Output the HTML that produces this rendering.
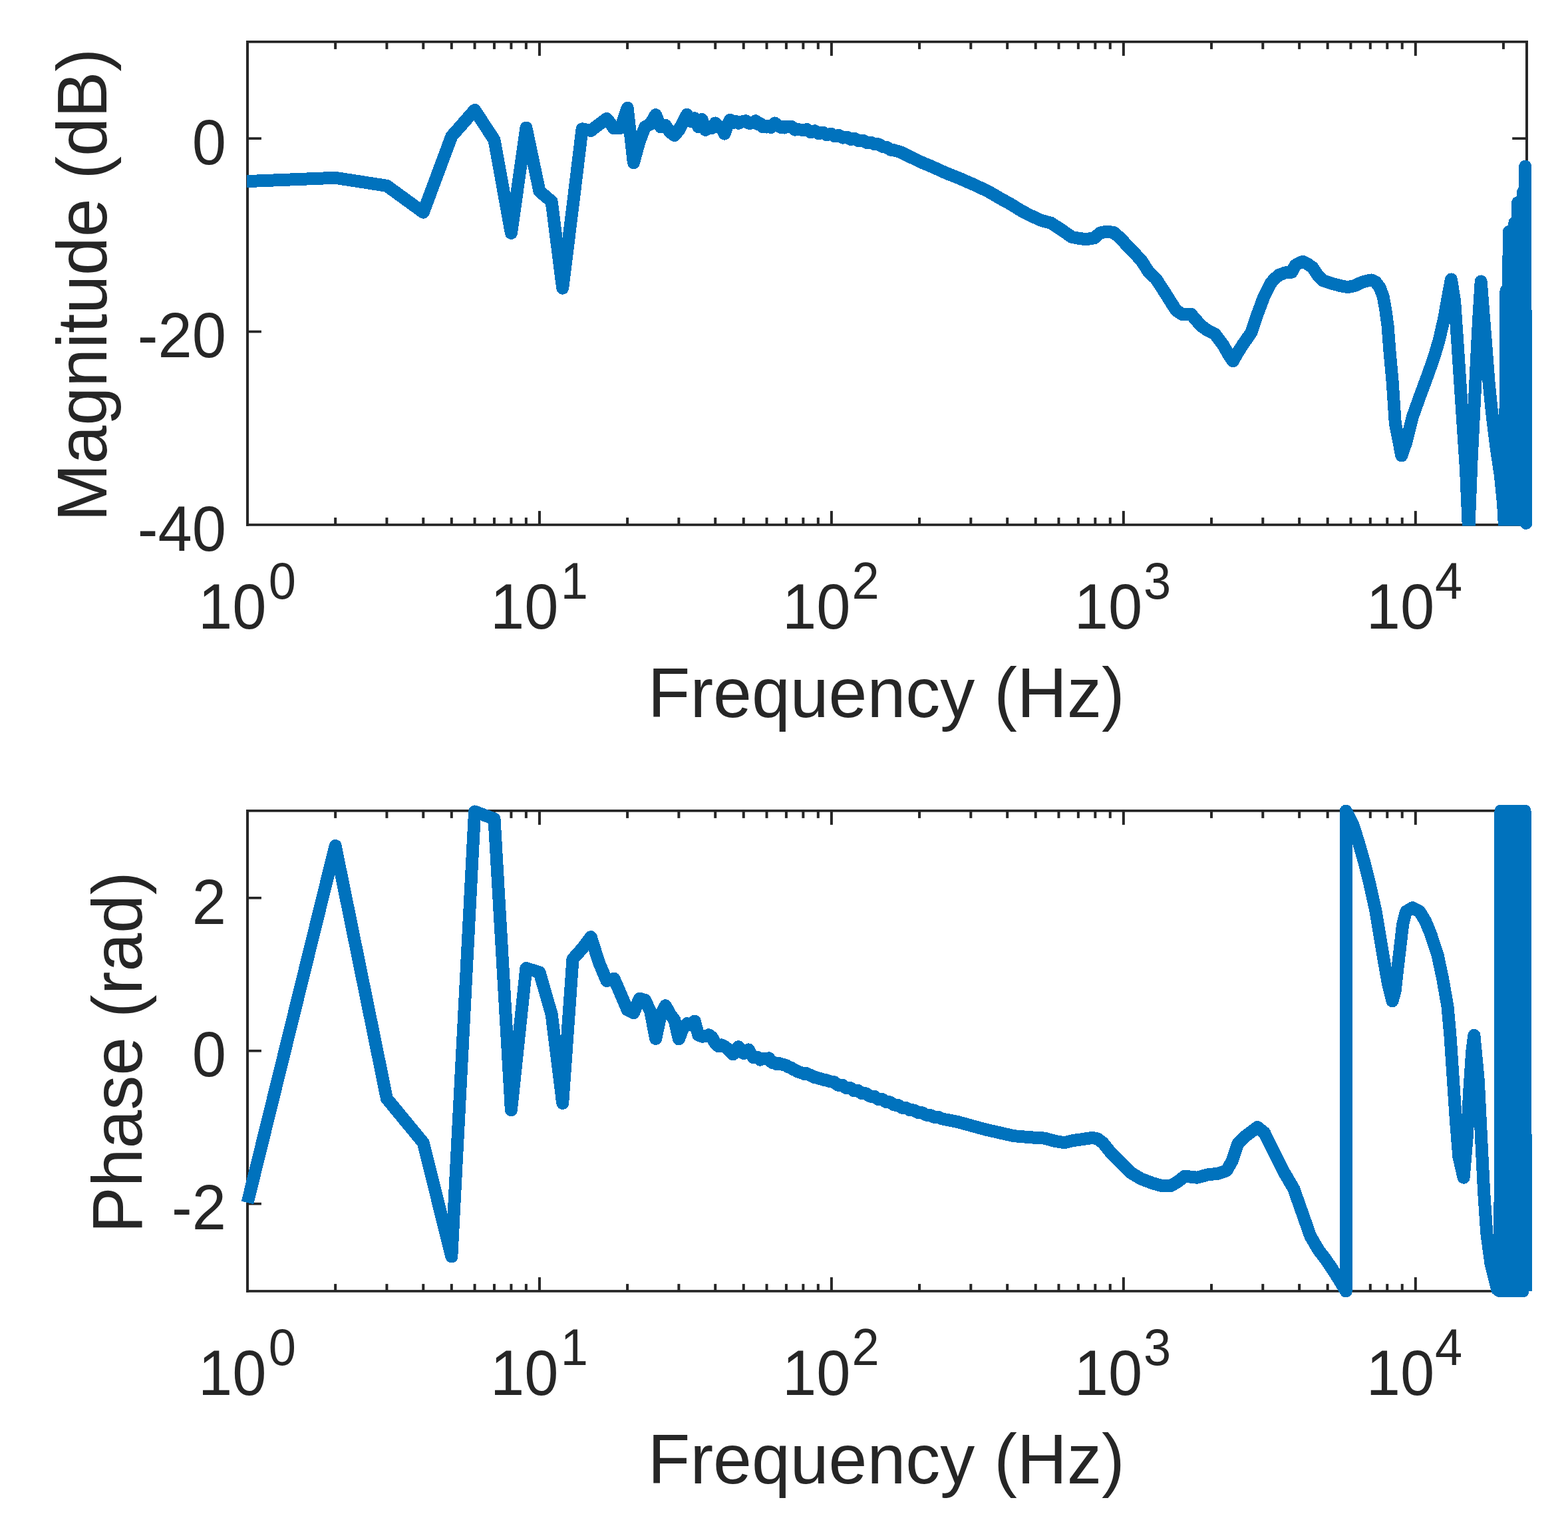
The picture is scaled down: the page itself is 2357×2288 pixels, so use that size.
<!DOCTYPE html>
<html><head><meta charset="utf-8"><title>Frequency response</title>
<style>html,body{margin:0;padding:0;background:#fff}svg{display:block}</style></head>
<body>
<svg xmlns="http://www.w3.org/2000/svg" width="2357" height="2288" viewBox="0 0 2357 2288">
<defs><clipPath id="ct"><rect x="360" y="0" width="1960" height="790.6"/></clipPath></defs>
<rect width="2357" height="2288" fill="#fff"/>
<g id="axes-top"><rect x="370" y="61.0" width="1927" height="3.7" fill="#262626"/>
<rect x="370" y="787.1" width="1927" height="3.7" fill="#262626"/>
<rect x="370" y="61.0" width="4" height="729.8" fill="#262626"/>
<rect x="2293" y="61.0" width="4" height="729.8" fill="#262626"/>
<rect x="502.14" y="778.1" width="4" height="10.9" fill="#262626"/>
<rect x="502.14" y="63.0" width="4" height="10.9" fill="#262626"/>
<rect x="579.43" y="778.1" width="4" height="10.9" fill="#262626"/>
<rect x="579.43" y="63.0" width="4" height="10.9" fill="#262626"/>
<rect x="634.27" y="778.1" width="4" height="10.9" fill="#262626"/>
<rect x="634.27" y="63.0" width="4" height="10.9" fill="#262626"/>
<rect x="676.81" y="778.1" width="4" height="10.9" fill="#262626"/>
<rect x="676.81" y="63.0" width="4" height="10.9" fill="#262626"/>
<rect x="711.57" y="778.1" width="4" height="10.9" fill="#262626"/>
<rect x="711.57" y="63.0" width="4" height="10.9" fill="#262626"/>
<rect x="740.96" y="778.1" width="4" height="10.9" fill="#262626"/>
<rect x="740.96" y="63.0" width="4" height="10.9" fill="#262626"/>
<rect x="766.41" y="778.1" width="4" height="10.9" fill="#262626"/>
<rect x="766.41" y="63.0" width="4" height="10.9" fill="#262626"/>
<rect x="788.86" y="778.1" width="4" height="10.9" fill="#262626"/>
<rect x="788.86" y="63.0" width="4" height="10.9" fill="#262626"/>
<rect x="808.95" y="768.1" width="4" height="20.9" fill="#262626"/>
<rect x="808.95" y="63.0" width="4" height="20.9" fill="#262626"/>
<rect x="941.09" y="778.1" width="4" height="10.9" fill="#262626"/>
<rect x="941.09" y="63.0" width="4" height="10.9" fill="#262626"/>
<rect x="1018.38" y="778.1" width="4" height="10.9" fill="#262626"/>
<rect x="1018.38" y="63.0" width="4" height="10.9" fill="#262626"/>
<rect x="1073.22" y="778.1" width="4" height="10.9" fill="#262626"/>
<rect x="1073.22" y="63.0" width="4" height="10.9" fill="#262626"/>
<rect x="1115.76" y="778.1" width="4" height="10.9" fill="#262626"/>
<rect x="1115.76" y="63.0" width="4" height="10.9" fill="#262626"/>
<rect x="1150.52" y="778.1" width="4" height="10.9" fill="#262626"/>
<rect x="1150.52" y="63.0" width="4" height="10.9" fill="#262626"/>
<rect x="1179.91" y="778.1" width="4" height="10.9" fill="#262626"/>
<rect x="1179.91" y="63.0" width="4" height="10.9" fill="#262626"/>
<rect x="1205.36" y="778.1" width="4" height="10.9" fill="#262626"/>
<rect x="1205.36" y="63.0" width="4" height="10.9" fill="#262626"/>
<rect x="1227.81" y="778.1" width="4" height="10.9" fill="#262626"/>
<rect x="1227.81" y="63.0" width="4" height="10.9" fill="#262626"/>
<rect x="1247.90" y="768.1" width="4" height="20.9" fill="#262626"/>
<rect x="1247.90" y="63.0" width="4" height="20.9" fill="#262626"/>
<rect x="1380.04" y="778.1" width="4" height="10.9" fill="#262626"/>
<rect x="1380.04" y="63.0" width="4" height="10.9" fill="#262626"/>
<rect x="1457.33" y="778.1" width="4" height="10.9" fill="#262626"/>
<rect x="1457.33" y="63.0" width="4" height="10.9" fill="#262626"/>
<rect x="1512.17" y="778.1" width="4" height="10.9" fill="#262626"/>
<rect x="1512.17" y="63.0" width="4" height="10.9" fill="#262626"/>
<rect x="1554.71" y="778.1" width="4" height="10.9" fill="#262626"/>
<rect x="1554.71" y="63.0" width="4" height="10.9" fill="#262626"/>
<rect x="1589.47" y="778.1" width="4" height="10.9" fill="#262626"/>
<rect x="1589.47" y="63.0" width="4" height="10.9" fill="#262626"/>
<rect x="1618.86" y="778.1" width="4" height="10.9" fill="#262626"/>
<rect x="1618.86" y="63.0" width="4" height="10.9" fill="#262626"/>
<rect x="1644.31" y="778.1" width="4" height="10.9" fill="#262626"/>
<rect x="1644.31" y="63.0" width="4" height="10.9" fill="#262626"/>
<rect x="1666.76" y="778.1" width="4" height="10.9" fill="#262626"/>
<rect x="1666.76" y="63.0" width="4" height="10.9" fill="#262626"/>
<rect x="1686.85" y="768.1" width="4" height="20.9" fill="#262626"/>
<rect x="1686.85" y="63.0" width="4" height="20.9" fill="#262626"/>
<rect x="1818.99" y="778.1" width="4" height="10.9" fill="#262626"/>
<rect x="1818.99" y="63.0" width="4" height="10.9" fill="#262626"/>
<rect x="1896.28" y="778.1" width="4" height="10.9" fill="#262626"/>
<rect x="1896.28" y="63.0" width="4" height="10.9" fill="#262626"/>
<rect x="1951.12" y="778.1" width="4" height="10.9" fill="#262626"/>
<rect x="1951.12" y="63.0" width="4" height="10.9" fill="#262626"/>
<rect x="1993.66" y="778.1" width="4" height="10.9" fill="#262626"/>
<rect x="1993.66" y="63.0" width="4" height="10.9" fill="#262626"/>
<rect x="2028.42" y="778.1" width="4" height="10.9" fill="#262626"/>
<rect x="2028.42" y="63.0" width="4" height="10.9" fill="#262626"/>
<rect x="2057.81" y="778.1" width="4" height="10.9" fill="#262626"/>
<rect x="2057.81" y="63.0" width="4" height="10.9" fill="#262626"/>
<rect x="2083.26" y="778.1" width="4" height="10.9" fill="#262626"/>
<rect x="2083.26" y="63.0" width="4" height="10.9" fill="#262626"/>
<rect x="2105.71" y="778.1" width="4" height="10.9" fill="#262626"/>
<rect x="2105.71" y="63.0" width="4" height="10.9" fill="#262626"/>
<rect x="2125.80" y="768.1" width="4" height="20.9" fill="#262626"/>
<rect x="2125.80" y="63.0" width="4" height="20.9" fill="#262626"/>
<rect x="2257.94" y="778.1" width="4" height="10.9" fill="#262626"/>
<rect x="2257.94" y="63.0" width="4" height="10.9" fill="#262626"/>
<rect x="372" y="206.30" width="20.9" height="3.7" fill="#262626"/>
<rect x="2273.2" y="206.30" width="21.8" height="3.7" fill="#262626"/>
<rect x="372" y="496.70" width="20.9" height="3.7" fill="#262626"/>
<rect x="2273.2" y="496.70" width="21.8" height="3.7" fill="#262626"/></g>
<g id="axes-bot"><rect x="370" y="1217.0" width="1927" height="3.7" fill="#262626"/>
<rect x="370" y="1939.1" width="1927" height="3.7" fill="#262626"/>
<rect x="370" y="1217.0" width="4" height="725.8" fill="#262626"/>
<rect x="2293" y="1217.0" width="4" height="725.8" fill="#262626"/>
<rect x="502.14" y="1930.1" width="4" height="10.9" fill="#262626"/>
<rect x="502.14" y="1219.0" width="4" height="10.9" fill="#262626"/>
<rect x="579.43" y="1930.1" width="4" height="10.9" fill="#262626"/>
<rect x="579.43" y="1219.0" width="4" height="10.9" fill="#262626"/>
<rect x="634.27" y="1930.1" width="4" height="10.9" fill="#262626"/>
<rect x="634.27" y="1219.0" width="4" height="10.9" fill="#262626"/>
<rect x="676.81" y="1930.1" width="4" height="10.9" fill="#262626"/>
<rect x="676.81" y="1219.0" width="4" height="10.9" fill="#262626"/>
<rect x="711.57" y="1930.1" width="4" height="10.9" fill="#262626"/>
<rect x="711.57" y="1219.0" width="4" height="10.9" fill="#262626"/>
<rect x="740.96" y="1930.1" width="4" height="10.9" fill="#262626"/>
<rect x="740.96" y="1219.0" width="4" height="10.9" fill="#262626"/>
<rect x="766.41" y="1930.1" width="4" height="10.9" fill="#262626"/>
<rect x="766.41" y="1219.0" width="4" height="10.9" fill="#262626"/>
<rect x="788.86" y="1930.1" width="4" height="10.9" fill="#262626"/>
<rect x="788.86" y="1219.0" width="4" height="10.9" fill="#262626"/>
<rect x="808.95" y="1920.1" width="4" height="20.9" fill="#262626"/>
<rect x="808.95" y="1219.0" width="4" height="20.9" fill="#262626"/>
<rect x="941.09" y="1930.1" width="4" height="10.9" fill="#262626"/>
<rect x="941.09" y="1219.0" width="4" height="10.9" fill="#262626"/>
<rect x="1018.38" y="1930.1" width="4" height="10.9" fill="#262626"/>
<rect x="1018.38" y="1219.0" width="4" height="10.9" fill="#262626"/>
<rect x="1073.22" y="1930.1" width="4" height="10.9" fill="#262626"/>
<rect x="1073.22" y="1219.0" width="4" height="10.9" fill="#262626"/>
<rect x="1115.76" y="1930.1" width="4" height="10.9" fill="#262626"/>
<rect x="1115.76" y="1219.0" width="4" height="10.9" fill="#262626"/>
<rect x="1150.52" y="1930.1" width="4" height="10.9" fill="#262626"/>
<rect x="1150.52" y="1219.0" width="4" height="10.9" fill="#262626"/>
<rect x="1179.91" y="1930.1" width="4" height="10.9" fill="#262626"/>
<rect x="1179.91" y="1219.0" width="4" height="10.9" fill="#262626"/>
<rect x="1205.36" y="1930.1" width="4" height="10.9" fill="#262626"/>
<rect x="1205.36" y="1219.0" width="4" height="10.9" fill="#262626"/>
<rect x="1227.81" y="1930.1" width="4" height="10.9" fill="#262626"/>
<rect x="1227.81" y="1219.0" width="4" height="10.9" fill="#262626"/>
<rect x="1247.90" y="1920.1" width="4" height="20.9" fill="#262626"/>
<rect x="1247.90" y="1219.0" width="4" height="20.9" fill="#262626"/>
<rect x="1380.04" y="1930.1" width="4" height="10.9" fill="#262626"/>
<rect x="1380.04" y="1219.0" width="4" height="10.9" fill="#262626"/>
<rect x="1457.33" y="1930.1" width="4" height="10.9" fill="#262626"/>
<rect x="1457.33" y="1219.0" width="4" height="10.9" fill="#262626"/>
<rect x="1512.17" y="1930.1" width="4" height="10.9" fill="#262626"/>
<rect x="1512.17" y="1219.0" width="4" height="10.9" fill="#262626"/>
<rect x="1554.71" y="1930.1" width="4" height="10.9" fill="#262626"/>
<rect x="1554.71" y="1219.0" width="4" height="10.9" fill="#262626"/>
<rect x="1589.47" y="1930.1" width="4" height="10.9" fill="#262626"/>
<rect x="1589.47" y="1219.0" width="4" height="10.9" fill="#262626"/>
<rect x="1618.86" y="1930.1" width="4" height="10.9" fill="#262626"/>
<rect x="1618.86" y="1219.0" width="4" height="10.9" fill="#262626"/>
<rect x="1644.31" y="1930.1" width="4" height="10.9" fill="#262626"/>
<rect x="1644.31" y="1219.0" width="4" height="10.9" fill="#262626"/>
<rect x="1666.76" y="1930.1" width="4" height="10.9" fill="#262626"/>
<rect x="1666.76" y="1219.0" width="4" height="10.9" fill="#262626"/>
<rect x="1686.85" y="1920.1" width="4" height="20.9" fill="#262626"/>
<rect x="1686.85" y="1219.0" width="4" height="20.9" fill="#262626"/>
<rect x="1818.99" y="1930.1" width="4" height="10.9" fill="#262626"/>
<rect x="1818.99" y="1219.0" width="4" height="10.9" fill="#262626"/>
<rect x="1896.28" y="1930.1" width="4" height="10.9" fill="#262626"/>
<rect x="1896.28" y="1219.0" width="4" height="10.9" fill="#262626"/>
<rect x="1951.12" y="1930.1" width="4" height="10.9" fill="#262626"/>
<rect x="1951.12" y="1219.0" width="4" height="10.9" fill="#262626"/>
<rect x="1993.66" y="1930.1" width="4" height="10.9" fill="#262626"/>
<rect x="1993.66" y="1219.0" width="4" height="10.9" fill="#262626"/>
<rect x="2028.42" y="1930.1" width="4" height="10.9" fill="#262626"/>
<rect x="2028.42" y="1219.0" width="4" height="10.9" fill="#262626"/>
<rect x="2057.81" y="1930.1" width="4" height="10.9" fill="#262626"/>
<rect x="2057.81" y="1219.0" width="4" height="10.9" fill="#262626"/>
<rect x="2083.26" y="1930.1" width="4" height="10.9" fill="#262626"/>
<rect x="2083.26" y="1219.0" width="4" height="10.9" fill="#262626"/>
<rect x="2105.71" y="1930.1" width="4" height="10.9" fill="#262626"/>
<rect x="2105.71" y="1219.0" width="4" height="10.9" fill="#262626"/>
<rect x="2125.80" y="1920.1" width="4" height="20.9" fill="#262626"/>
<rect x="2125.80" y="1219.0" width="4" height="20.9" fill="#262626"/>
<rect x="2257.94" y="1930.1" width="4" height="10.9" fill="#262626"/>
<rect x="2257.94" y="1219.0" width="4" height="10.9" fill="#262626"/>
<rect x="372" y="1348.00" width="20.9" height="3.7" fill="#262626"/>
<rect x="2273.2" y="1348.00" width="21.8" height="3.7" fill="#262626"/>
<rect x="372" y="1577.90" width="20.9" height="3.7" fill="#262626"/>
<rect x="2273.2" y="1577.90" width="21.8" height="3.7" fill="#262626"/>
<rect x="372" y="1807.80" width="20.9" height="3.7" fill="#262626"/>
<rect x="2273.2" y="1807.80" width="21.8" height="3.7" fill="#262626"/></g>
<g font-family="'Liberation Sans', Arial, Helvetica, sans-serif" fill="#262626">
<text transform="translate(298.0,944.8) scale(0.950,1)" font-size="97">10<tspan dx="3.36" dy="-44.5" font-size="78">0</tspan></text>
<text transform="translate(737.0,944.8) scale(0.950,1)" font-size="97">10<tspan dx="3.57" dy="-44.5" font-size="78">1</tspan></text>
<text transform="translate(1175.9,944.8) scale(0.950,1)" font-size="97">10<tspan dx="2.31" dy="-44.5" font-size="78">2</tspan></text>
<text transform="translate(1614.8,944.8) scale(0.950,1)" font-size="97">10<tspan dx="1.78" dy="-44.5" font-size="78">3</tspan></text>
<text transform="translate(2053.8,944.8) scale(0.950,1)" font-size="97">10<tspan dx="0.73" dy="-44.5" font-size="78">4</tspan></text>
<text transform="translate(298.0,2096.8) scale(0.950,1)" font-size="97">10<tspan dx="3.36" dy="-44.5" font-size="78">0</tspan></text>
<text transform="translate(737.0,2096.8) scale(0.950,1)" font-size="97">10<tspan dx="3.57" dy="-44.5" font-size="78">1</tspan></text>
<text transform="translate(1175.9,2096.8) scale(0.950,1)" font-size="97">10<tspan dx="2.31" dy="-44.5" font-size="78">2</tspan></text>
<text transform="translate(1614.8,2096.8) scale(0.950,1)" font-size="97">10<tspan dx="1.78" dy="-44.5" font-size="78">3</tspan></text>
<text transform="translate(2053.8,2096.8) scale(0.950,1)" font-size="97">10<tspan dx="0.73" dy="-44.5" font-size="78">4</tspan></text>
<text transform="translate(340,246.8) scale(0.950,1)" text-anchor="end" font-size="97">0</text>
<text transform="translate(340,537.2) scale(0.950,1)" text-anchor="end" font-size="97">-20</text>
<text transform="translate(340,827.6) scale(0.950,1)" text-anchor="end" font-size="97">-40</text>
<text transform="translate(340,1388.5) scale(0.950,1)" text-anchor="end" font-size="97">2</text>
<text transform="translate(340,1618.4) scale(0.950,1)" text-anchor="end" font-size="97">0</text>
<text transform="translate(340,1848.3) scale(0.950,1)" text-anchor="end" font-size="97">-2</text>
<text transform="translate(1332.2,1078.4) scale(0.986,1)" text-anchor="middle" font-size="105.5">Frequency (Hz)</text>
<text transform="translate(1332.2,2230.4) scale(0.986,1)" text-anchor="middle" font-size="105.5">Frequency (Hz)</text>
<text transform="translate(159.8,428.5) rotate(-90) scale(0.986,1)" text-anchor="middle" font-size="105.5">Magnitude (dB)</text>
<text transform="translate(213.1,1582) rotate(-90) scale(0.986,1)" text-anchor="middle" font-size="105.5">Phase (rad)</text>
</g>
<g clip-path="url(#ct)"><polyline fill="none" stroke="#0072BD" stroke-width="19" stroke-linejoin="round" stroke-linecap="butt" shape-rendering="crispEdges" points="371.0,272.6 504.1,267.3 581.4,279.3 636.3,319.2 678.8,205.0 713.6,165.4 743.0,210.4 768.4,350.4 790.9,192.2 811.0,287.5 829.1,302.8 845.7,433.2 861.0,309.7 875.1,193.8 888.2,196.5 900.5,186.9 912.1,178.4 923.0,193.0 933.3,192.2 943.1,162.3 952.4,244.6 961.3,212.2 969.7,190.7 977.8,186.3 985.6,172.6 993.1,190.9 1000.3,188.6 1007.2,198.5 1013.9,203.5 1020.4,195.6 1026.6,183.9 1032.7,172.3 1038.6,182.5 1044.2,177.6 1049.8,190.7 1055.1,179.4 1060.4,195.4 1065.4,191.5 1070.4,192.4 1075.2,185.0 1079.9,189.6 1084.5,192.3 1089.0,201.1 1093.4,187.8 1097.7,180.2 1101.9,184.6 1106.0,182.6 1110.0,185.2 1113.9,183.4 1117.8,182.4 1121.5,181.8 1125.2,185.2 1128.9,185.1 1132.4,183.8 1135.9,181.8 1139.4,186.8 1142.7,185.6 1146.1,190.6 1149.3,189.3 1152.5,191.0 1155.7,189.2 1158.8,191.6 1161.8,188.3 1164.8,185.0 1167.8,188.3 1170.7,189.2 1173.6,191.4 1176.4,190.3 1179.2,192.0 1181.9,190.7 1184.6,190.4 1187.3,190.3 1189.9,190.4 1192.5,192.5 1195.1,195.1 1197.6,194.4 1200.1,194.7 1202.5,195.0 1205.0,195.0 1207.4,195.4 1209.7,195.7 1213.0,194.6 1219.0,198.8 1225.0,196.8 1231.0,200.8 1237.0,199.0 1243.0,202.8 1249.0,201.2 1255.0,204.8 1261.0,203.4 1267.0,207.1 1273.0,206.0 1279.0,209.4 1285.0,208.5 1291.0,211.8 1297.0,211.2 1303.0,214.4 1309.0,214.0 1315.0,217.0 1321.0,216.8 1327.0,220.7 1333.0,221.5 1339.0,225.2 1340.0,224.9 1352.2,228.0 1365.0,234.2 1383.8,243.4 1400.0,250.1 1422.0,260.1 1443.0,268.4 1464.1,277.7 1485.0,287.4 1506.1,299.7 1520.0,307.3 1535.0,316.7 1548.2,323.6 1565.0,331.3 1579.7,335.2 1595.0,345.1 1611.2,356.4 1622.0,358.3 1632.2,359.7 1644.8,357.8 1654.0,349.9 1663.8,348.1 1674.3,349.6 1685.0,358.7 1695.3,370.4 1705.0,380.1 1716.3,392.5 1727.0,409.5 1737.3,418.7 1748.0,435.0 1758.3,451.4 1768.0,466.6 1777.8,472.9 1790.4,472.4 1805.1,489.4 1815.0,496.6 1826.1,502.1 1838.7,518.9 1846.0,531.7 1853.4,542.7 1860.0,531.0 1868.2,518.1 1880.8,499.9 1889.2,475.0 1899.7,446.6 1910.2,425.7 1916.0,419.0 1922.8,413.3 1932.0,409.9 1941.7,409.1 1947.0,398.9 1952.0,395.9 1958.5,393.2 1965.0,396.5 1973.2,402.3 1980.0,412.6 1988.0,421.5 1996.0,424.3 2004.8,427.0 2015.0,429.6 2025.8,431.6 2036.0,429.6 2046.8,424.6 2054.0,422.4 2061.5,421.0 2068.0,424.0 2074.1,432.4 2079.0,445.0 2082.6,464.8 2086.0,489.5 2088.9,527.3 2093.1,573.3 2097.3,636.3 2100.5,652.3 2106.8,684.9 2113.1,667.0 2123.6,626.0 2134.1,596.6 2144.6,568.2 2155.1,538.8 2163.5,510.4 2170.9,477.8 2176.1,448.4 2181.4,420.0 2186.6,452.6 2190.9,515.6 2195.1,578.7 2199.3,641.8 2203.5,704.8 2207.7,800.0 2211.9,694.3 2216.1,610.2 2219.2,547.2 2222.4,484.1 2226.2,423.0 2229.3,463.1 2233.5,515.6 2238.0,574.5 2243.0,623.9 2249.1,673.3 2255.4,715.3 2259.6,757.4 2262.0,800.0 2264.0,437.0 2266.0,800.0 2268.2,348.5 2272.5,800.0 2276.9,334.5 2279.0,800.0 2281.6,304.5 2285.5,800.0 2289.5,288.7 2291.0,800.0 2292.7,250.1 2293.5,800.0"/></g>
<circle cx="2293.9" cy="786.5" r="9.5" fill="#0072BD" shape-rendering="crispEdges"/>
<polyline fill="none" stroke="#0072BD" stroke-width="19" stroke-linejoin="round" stroke-linecap="butt" shape-rendering="crispEdges" points="372.0,1808.0 504.1,1271.5 581.4,1651.4 636.3,1718.0 678.8,1888.9 713.6,1220.0 743.0,1231.0 768.4,1668.8 790.9,1455.5 811.0,1461.8 829.1,1524.5 845.7,1658.5 861.0,1441.8 875.1,1426.0 888.2,1408.5 900.5,1447.3 912.1,1474.6 923.0,1471.1 933.3,1495.1 943.1,1518.0 952.4,1522.7 961.3,1501.2 969.7,1503.5 977.8,1520.9 985.6,1561.5 993.1,1526.5 1000.3,1511.8 1007.2,1524.3 1013.9,1533.5 1020.4,1561.9 1026.6,1546.1 1032.7,1538.8 1038.6,1540.4 1044.2,1535.0 1049.8,1556.0 1055.1,1558.1 1060.4,1557.9 1065.4,1555.8 1070.4,1559.5 1075.2,1568.6 1079.9,1572.8 1084.5,1570.9 1089.0,1573.0 1093.4,1576.4 1097.7,1580.8 1101.9,1585.0 1106.0,1579.1 1110.0,1573.7 1113.9,1578.2 1117.8,1583.6 1121.5,1581.5 1125.2,1577.8 1128.9,1584.5 1132.4,1589.7 1135.9,1588.9 1139.4,1589.6 1142.7,1593.1 1146.1,1591.9 1149.3,1591.4 1152.5,1591.9 1155.7,1590.8 1158.8,1595.8 1161.8,1598.0 1164.8,1597.7 1167.8,1599.7 1170.7,1598.2 1173.6,1599.7 1176.4,1600.2 1179.2,1600.8 1181.9,1601.8 1184.6,1603.5 1187.3,1604.7 1189.9,1605.6 1192.5,1607.7 1195.1,1608.5 1197.6,1610.0 1200.1,1611.2 1202.5,1612.0 1205.0,1612.7 1207.4,1613.4 1209.7,1614.7 1212.1,1613.6 1214.4,1614.8 1216.7,1615.8 1218.9,1616.7 1221.1,1617.8 1223.4,1619.4 1225.5,1619.5 1227.7,1620.1 1229.8,1620.9 1231.9,1621.4 1234.0,1621.7 1236.1,1622.5 1238.1,1623.1 1240.1,1623.9 1242.1,1623.7 1244.1,1624.5 1246.0,1625.2 1248.0,1625.7 1249.9,1626.1 1254.0,1626.7 1260.0,1631.4 1266.0,1631.1 1272.0,1635.7 1278.0,1635.4 1284.0,1639.9 1290.0,1639.6 1296.0,1644.0 1302.0,1643.9 1308.0,1648.2 1314.0,1648.1 1320.0,1652.4 1326.0,1652.5 1332.0,1656.7 1338.0,1656.9 1344.0,1661.0 1350.0,1661.3 1356.0,1665.3 1362.0,1665.3 1368.0,1668.9 1374.0,1669.0 1380.0,1672.5 1386.0,1672.7 1392.0,1676.1 1398.0,1676.4 1404.0,1679.2 1410.0,1679.2 1416.0,1681.9 1440.2,1686.7 1482.2,1698.2 1524.3,1707.7 1540.0,1709.0 1555.0,1710.2 1570.0,1711.1 1585.0,1715.2 1600.0,1717.8 1612.0,1714.7 1625.0,1712.9 1642.0,1710.4 1650.0,1712.1 1658.0,1718.1 1669.4,1732.4 1684.1,1747.3 1698.8,1762.2 1715.6,1772.3 1732.4,1778.6 1747.1,1782.8 1759.7,1782.8 1770.3,1776.5 1780.8,1768.1 1799.7,1770.2 1816.5,1765.6 1831.2,1764.3 1843.8,1759.7 1852.2,1745.0 1860.6,1719.7 1873.3,1707.1 1890.1,1694.5 1900.6,1702.9 1915.3,1732.4 1930.0,1761.8 1944.7,1787.0 1957.3,1822.7 1969.9,1858.5 1982.6,1880.0 1992.0,1892.0 2002.5,1907.5 2013.1,1924.0 2023.1,1941.0 2023.1,1219.0 2034.0,1240.0 2042.5,1267.3 2050.9,1296.7 2059.3,1330.3 2067.7,1368.2 2074.0,1406.0 2080.3,1443.8 2086.6,1479.6 2092.9,1504.8 2097.1,1490.0 2101.3,1452.2 2105.5,1416.5 2108.7,1389.2 2113.5,1370.5 2123.4,1364.6 2134.0,1370.3 2142.8,1385.0 2151.0,1404.9 2161.0,1435.4 2168.6,1471.2 2176.0,1513.2 2180.2,1560.0 2184.4,1623.0 2188.6,1686.1 2192.8,1738.7 2200.1,1770.2 2205.4,1707.1 2208.5,1644.1 2212.7,1581.0 2215.9,1556.3 2222.2,1623.1 2226.4,1707.1 2230.6,1791.2 2234.8,1854.3 2241.1,1900.5 2250.6,1938.4 2254.8,1941.0 2256.0,1219.0 2259.0,1941.0 2262.0,1219.0 2265.0,1941.0 2268.0,1219.0 2271.0,1941.0 2274.0,1219.0 2277.0,1941.0 2280.0,1219.0 2283.0,1941.0 2286.0,1219.0 2289.0,1941.0 2292.0,1219.0 2293.5,1941.0"/>
</svg>
</body></html>
